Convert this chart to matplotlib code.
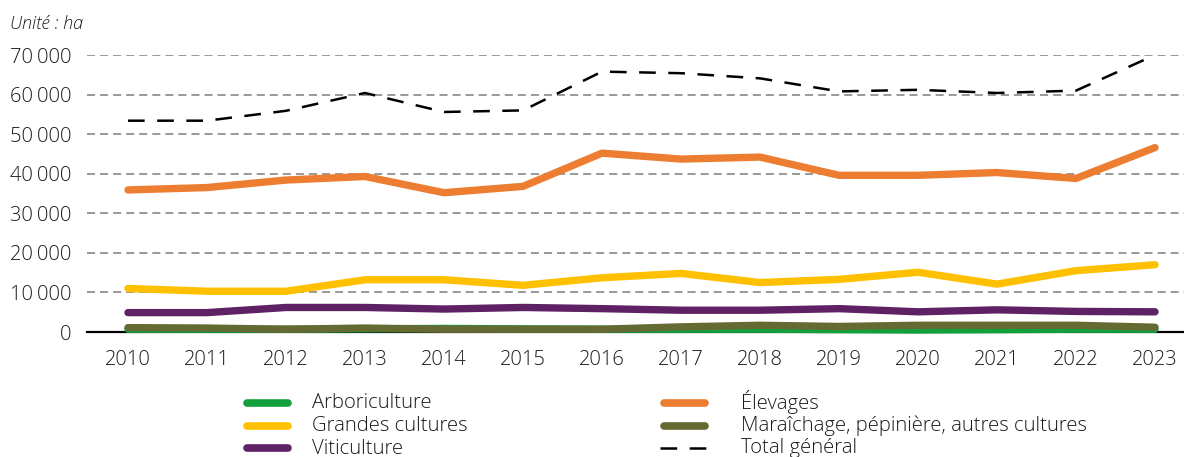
import matplotlib
matplotlib.use("Agg")
import matplotlib.pyplot as plt
from matplotlib.lines import Line2D

plt.rcParams['font.family'] = ['Open Sans', 'DejaVu Sans']
plt.rcParams['lines.scale_dashes'] = False

years = [2010, 2011, 2012, 2013, 2014, 2015, 2016, 2017, 2018, 2019, 2020, 2021, 2022, 2023]
arboriculture = [700, 700, 700, 800, 900, 800, 700, 700, 700, 600, 500, 600, 700, 700]
grandes_cultures = [11000, 10300, 10300, 13200, 13200, 11800, 13700, 14800, 12500, 13300, 15100, 12100, 15500, 17000]
viticulture = [4900, 4900, 6200, 6200, 5800, 6200, 5900, 5500, 5500, 5900, 5100, 5600, 5200, 5100]
elevages = [35900, 36500, 38400, 39300, 35200, 36800, 45200, 43700, 44200, 39600, 39600, 40300, 38800, 46600]
maraichage = [1100, 1000, 700, 1000, 700, 700, 700, 1300, 1700, 1400, 1700, 1700, 1700, 1200]
total = [53400, 53400, 55900, 60400, 55600, 56000, 65800, 65400, 64100, 60800, 61200, 60400, 61000, 70000]

yticks = [0, 10000, 20000, 30000, 40000, 50000, 60000, 70000]
ytick_labels = ["0", "10\u2009000", "20\u2009000", "30\u2009000", "40\u2009000", "50\u2009000", "60\u2009000", "70\u2009000"]

names = ["Arboriculture", "Grandes cultures", "Viticulture", "Élevages",
         "Maraîchage, pépinière, autres cultures"]
colors = ["#12A03C", "#FFC000", "#5E2163", "#ED7D31", "#656A33"]
values = [arboriculture, grandes_cultures, viticulture, elevages, maraichage]
total_name = "Total général"

W, H = 1184, 457
fig = plt.figure(figsize=(W / 100, H / 100), dpi=100)
ax_left, ax_right, ax_top, ax_bottom = 87, 1184, 55, 332
ax = fig.add_axes([ax_left / W, 1 - ax_bottom / H, (ax_right - ax_left) / W, (ax_bottom - ax_top) / H])

x = list(range(len(years)))
lw = 5.3
for name, vals, col in zip(names, values, colors):
    ax.plot(x, vals, color=col, lw=lw, solid_capstyle='round', solid_joinstyle='round',
            clip_on=False, zorder=3, label=name)
ax.plot(x, total, color='black', lw=1.8, dashes=(12, 9), clip_on=False, zorder=4, label=total_name)

ax.set_ylim(0, 70000)
ax.set_xlim(-0.519, 13.367)
ax.set_yticks(yticks)
ax.set_yticklabels(ytick_labels)
ax.set_xticks(x)
ax.set_xticklabels([str(y) for y in years])
ax.tick_params(axis='both', length=0, labelsize=14.5, colors='#1a1a1a')
ax.tick_params(axis='y', pad=11)
ax.tick_params(axis='x', pad=13)
for lab in ax.get_xticklabels() + ax.get_yticklabels():
    lab.set_fontweight('light')

for s in ['top', 'right', 'left']:
    ax.spines[s].set_visible(False)
ax.spines['bottom'].set_color('black')
ax.spines['bottom'].set_linewidth(1.6)
ax.spines['bottom'].set_zorder(2)

for yv in yticks[1:]:
    ax.axhline(yv, color='#999999', lw=1.4, dashes=(5.8, 3.6), zorder=1)

fig.text(10 / W, 1 - 24 / H, "Unité : ha", fontsize=13, style='italic', fontweight='light',
         ha='left', va='center', color='#1a1a1a')

# Legend (two columns, drawn in figure pixel coordinates)
def fx(px):
    return px / W

def fy(py):
    return 1 - py / H

entries = [
    (names[0], colors[0], 'solid', 243, 0),
    (names[1], colors[1], 'solid', 243, 1),
    (names[2], colors[2], 'solid', 243, 2),
    (names[3], colors[3], 'solid', 660, 0),
    (names[4], colors[4], 'solid', 660, 1),
    (total_name, 'black', 'dash', 660, 2),
]
row_centers = [403, 425.5, 448]
for label, col, style, x0, r in entries:
    yc = row_centers[r]
    if style == 'solid':
        ln = Line2D([fx(x0 + 4), fx(x0 + 45)], [fy(yc), fy(yc)], transform=fig.transFigure,
                    color=col, lw=5.5, solid_capstyle='round')
    else:
        ln = Line2D([fx(x0), fx(x0 + 50)], [fy(yc), fy(yc)], transform=fig.transFigure,
                    color=col, lw=1.8, dashes=(12, 9))
    fig.add_artist(ln)
    tx = x0 + 69 if x0 == 243 else x0 + 81
    fig.text(fx(tx), fy(yc + 5.5), label, fontsize=14.6, fontweight='light', color='#1a1a1a',
             ha='left', va='baseline')

fig.savefig("out.png", dpi=100)
